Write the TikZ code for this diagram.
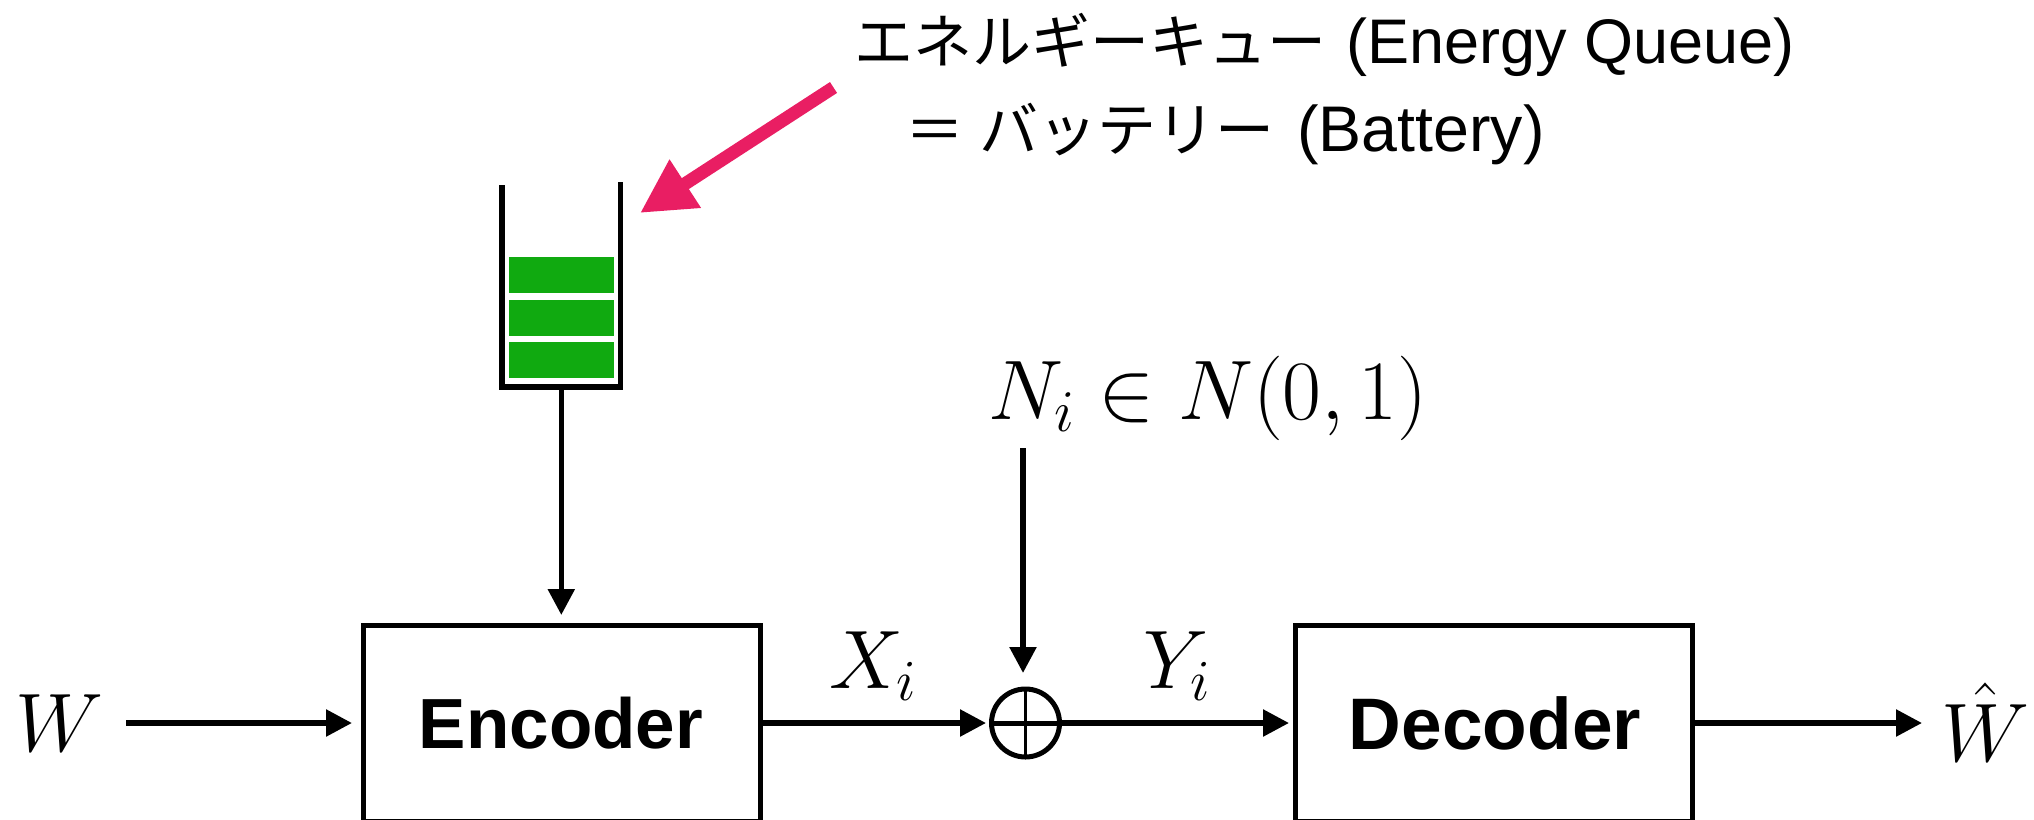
\RequirePackage{fix-cm}
\documentclass[tikz,border=0pt]{standalone}
\usepackage[no-math]{fontspec}
\usetikzlibrary{arrows.meta}
\newfontfamily\jpfont{Noto Sans CJK JP}
\newfontfamily\lat{Liberation Sans}
\definecolor{barg}{HTML}{10AA10}
\definecolor{pinkarrow}{HTML}{E91E63}
\tikzset{
  blockbox/.style={draw=black,line width=5pt,outer sep=0pt,minimum width=397pt,minimum height=196pt,inner sep=0pt,anchor=north west},
  blocklabel/.style={inner sep=0pt,font=\fontsize{71}{71}\selectfont\lat\bfseries},
  flow/.style={line width=5.5pt,-{Triangle[length=26pt,width=26pt]}},
  wall/.style={line width=5.5pt,draw=black},
  bar/.style={fill=barg,draw=none},
  mathlabel/.style={inner sep=0pt,anchor=base west,font=\fontsize{83}{83}\selectfont},
  jplabel/.style={inner sep=0pt,anchor=base west,font=\fontsize{59}{66}\selectfont},
  adder/.style={circle,draw=black,line width=5pt,outer sep=0pt,minimum size=68pt,inner sep=0pt}
}
\begin{document}
\begin{tikzpicture}[x=1pt,y=-1pt]
\useasboundingbox (0,0) rectangle (2034,819);
\fill[white] (0,0) rectangle (2034,819);
% blocks
\node[blockbox] (enc) at (363.5,625) {};
\node[blocklabel] at (561,723) {Encoder};
\node[blockbox] (dec) at (1295,625) {};
\node[blocklabel,font=\fontsize{73}{73}\selectfont\lat\bfseries] at (1495,723) {Decoder};
% adder
\node[adder] (add) at (1025.5,723) {};
\draw[line width=3.5pt] (add.north) -- (add.south);
\draw[line width=5pt] (add.west) -- (add.east);
% labels
\node[mathlabel] (w) at (15,751) {$W$};
\node[mathlabel] (wh) at (1941,761) {$\hat W$};
\node[mathlabel] (x) at (829,688) {$X_i$};
\node[mathlabel] (y) at (1143,688) {$Y_i$};
\node[mathlabel,font=\fontsize{84.5}{84}\selectfont] (n) at (988,419) {$N_i\in N(0,1)$};
% battery
\coordinate (bl) at (502,185);
\coordinate (br) at (620.7,182);
\coordinate (bb) at (561.3,387);
\draw[wall] (bl) -- (bl|-bb) -- (br|-bb) -- (br);
\fill[bar] (509,257) rectangle (614.3,293);
\fill[bar] (509,300) rectangle (614.3,336);
\fill[bar] (509,342) rectangle (614.3,378);
% connectors
\coordinate (ws) at (126,723);
\coordinate (ee) at (352,723);
\coordinate (xs) at (760,723);
\coordinate (xe) at (986,723);
\coordinate (ys) at (1060,723);
\coordinate (ye) at (1289,723);
\coordinate (ds) at (1695,723);
\coordinate (de) at (1922,723);
\coordinate (ns) at (1023,448);
\coordinate (ne) at (1023,673);
\coordinate (bs) at (561.3,387);
\coordinate (be) at (561.3,615);
\draw[flow] (ws) -- (ee);
\draw[flow] (xs) -- (xe);
\draw[flow] (ys) -- (ye);
\draw[flow] (ds) -- (de);
\draw[flow] (ns) -- (ne);
\draw[flow] (bs) -- (be);
% pink arrow
\coordinate (ps) at (833.5,87.5);
\coordinate (pe) at (640,213);
\draw[pinkarrow,line width=13pt,-{Triangle[length=54pt,width=54pt]}] (ps) -- (pe);
% text
\node[jplabel] (t1) at (854,63) {{\jpfont エネルギーキュー} \kern 2pt{\fontsize{63}{66}\selectfont\lat (Energy Queue)}};
\node[jplabel] (t2) at (905,151) {{\jpfont ＝\kern 2pt{} バッテリー} \kern 5pt{\fontsize{64.5}{66}\selectfont\lat (Battery)}};
\end{tikzpicture}
\end{document}
